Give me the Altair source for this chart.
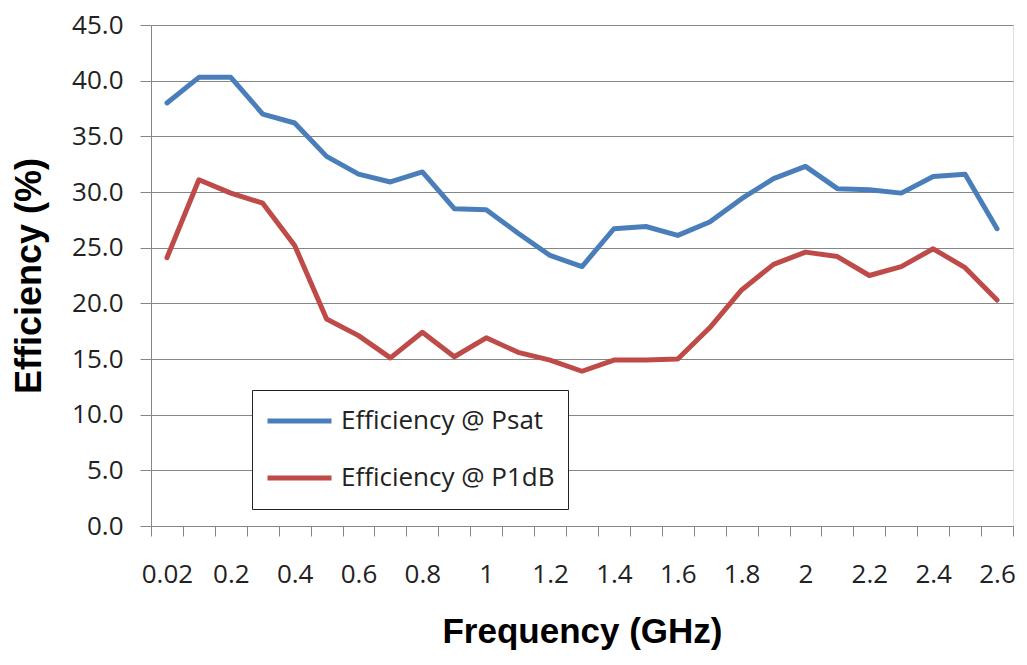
import altair as alt
import pandas as pd

freqs = ["0.02", "0.1", "0.2", "0.3", "0.4", "0.5", "0.6", "0.7", "0.8", "0.9",
         "1", "1.1", "1.2", "1.3", "1.4", "1.5", "1.6", "1.7", "1.8", "1.9",
         "2", "2.1", "2.2", "2.3", "2.4", "2.5", "2.6"]
eff_psat = [38.0, 40.3, 40.3, 37.0, 36.2, 33.2, 31.6, 30.9, 31.8, 28.5,
            28.4, 26.3, 24.3, 23.3, 26.7, 26.9, 26.1, 27.3, 29.4, 31.2,
            32.3, 30.3, 30.2, 29.9, 31.4, 31.6, 26.7]
eff_p1db = [24.1, 31.1, 29.9, 29.0, 25.2, 18.6, 17.1, 15.1, 17.4, 15.2,
            16.9, 15.6, 14.9, 13.9, 14.9, 14.9, 15.0, 17.8, 21.2, 23.5,
            24.6, 24.2, 22.5, 23.3, 24.9, 23.2, 20.3]
series_names = ["Efficiency @ Psat", "Efficiency @ P1dB"]
series_colors = ["#4A7EBB", "#BE4B48"]
shown_labels = freqs[::2]
y_ticks = [0, 5, 10, 15, 20, 25, 30, 35, 40, 45]

rows = []
for i, f in enumerate(freqs):
    rows.append({"freq": f, "series": series_names[0], "value": eff_psat[i]})
    rows.append({"freq": f, "series": series_names[1], "value": eff_p1db[i]})
df = pd.DataFrame(rows)

label_list = "[" + ",".join("'" + s + "'" for s in shown_labels) + "]"
grey = "#868686"
tick_font = "Open Sans"
fs = 26

chart = alt.Chart(df).mark_line(strokeWidth=5, strokeJoin="round", strokeCap="round").encode(
    x=alt.X("freq:N", sort=freqs,
            scale=alt.Scale(type="band", domain=freqs, paddingInner=0, paddingOuter=0),
            axis=alt.Axis(title="Frequency (GHz)", labelAngle=0, tickBand="extent",
                          labelExpr="indexof(" + label_list + ", datum.label) >= 0 ? datum.label : ''",
                          tickSize=10, tickColor=grey, domainColor=grey, grid=False,
                          labelFont=tick_font, labelFontSize=fs, labelColor="#222222",
                          labelPadding=25, titleFont="Liberation Sans", titleFontSize=35,
                          titleFontWeight="bold", titleColor="#000000", titlePadding=27)),
    y=alt.Y("value:Q",
            scale=alt.Scale(domain=[0, 45], nice=False),
            axis=alt.Axis(title="Efficiency (%)", values=y_ticks, format=".1f",
                          tickSize=11, tickColor=grey, domainColor=grey,
                          gridColor=grey, gridWidth=1,
                          labelFont=tick_font, labelFontSize=fs, labelColor="#222222",
                          labelPadding=17, titleFont="Liberation Sans", titleFontSize=36,
                          titleFontWeight="bold", titleColor="#000000", titlePadding=23)),
    color=alt.Color("series:N", sort=series_names,
                    scale=alt.Scale(domain=series_names, range=series_colors),
                    legend=alt.Legend(title=None, orient="none", legendX=101, legendY=365,
                                      symbolType="stroke", symbolSize=4096, symbolStrokeWidth=5,
                                      strokeColor="#222222", fillColor="#ffffff", padding=13,
                                      clipHeight=36, rowPadding=21, labelOffset=7,
                                      labelFont=tick_font, labelFontSize=fs, labelColor="#222222",
                                      labelLimit=400)),
).properties(
    width=862, height=501,
    autosize=alt.AutoSizeParams(type="none"),
    padding={"left": 143, "top": 17, "right": 6, "bottom": 125},
).configure_view(stroke=None).configure(background="#ffffff")

chart.save("out.html", embed_options={"renderer": "svg", "actions": False})
